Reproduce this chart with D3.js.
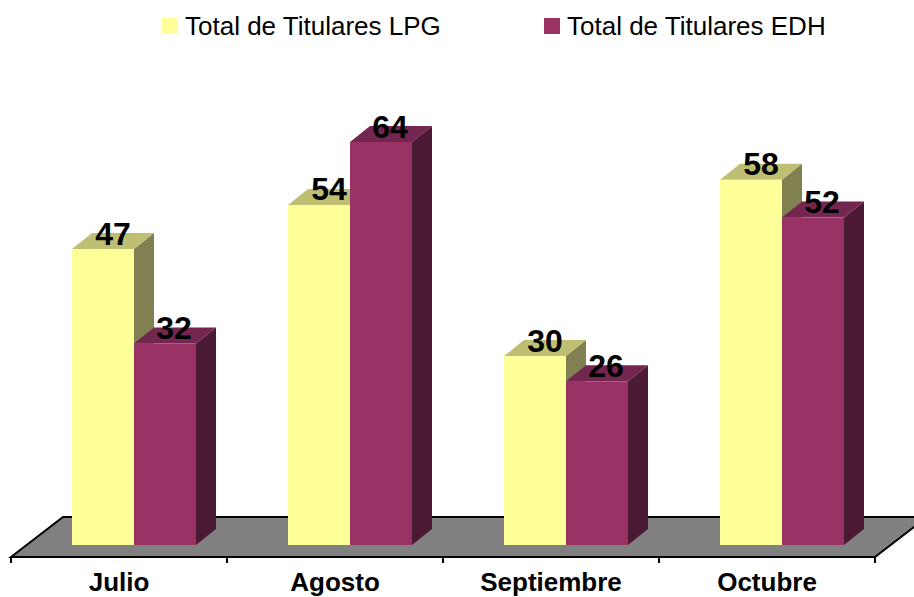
<!DOCTYPE html>
<html><head><meta charset="utf-8">
<script src="https://cdn.jsdelivr.net/npm/d3@7/dist/d3.min.js"></script>
<style>html,body{margin:0;padding:0;background:#fff}svg{display:block}text{font-family:"Liberation Sans",Arial,sans-serif}</style>
</head><body><svg id="c" width="914" height="597"></svg>
<script>
const categories = ["Julio","Agosto","Septiembre","Octubre"];
const seriesNames = ["Total de Titulares LPG","Total de Titulares EDH"];
const lpgValues = [47,54,30,58];
const edhValues = [32,64,26,52];
const seriesColors = [{front:"#ffff99",top:"#bfbf73",side:"#808050"},{front:"#993366",top:"#732650",side:"#4d1a33"}];

const svg = d3.select("#c");
const depthX = 20, depthY = 16;
const floorY = 557, baseY = 545, floorBackY = 517;
const x0 = d3.scaleBand().domain(categories).range([11,875]);
const x1 = d3.scaleBand().domain(seriesNames).range([61,185]);
const y = d3.scaleLinear().domain([0,64]).range([baseY,142]);
const labelShift = [10,9];

// floor
svg.append("path")
  .attr("d",`M11,${floorY}L63,${floorBackY}L927,${floorBackY}L875,${floorY}Z`)
  .attr("fill","#808080").attr("stroke","#000").attr("stroke-width",2);

// axis
const axis = d3.axisBottom(x0).tickSize(0).tickPadding(15.5);
const gA = svg.append("g").attr("transform",`translate(0,${floorY})`).call(axis);
gA.select(".domain").remove();
gA.selectAll("text").attr("font-size",26).attr("font-weight","bold").attr("fill","#000").attr("font-family","Liberation Sans");
const edges = categories.map(c=>x0(c)).concat([x0.range()[1]]);
gA.selectAll("line.edge").data(edges).join("line").attr("class","edge")
  .attr("x1",d=>d).attr("x2",d=>d).attr("y1",0).attr("y2",6).attr("stroke","#000").attr("stroke-width",2);

// bars
const allSeries = [lpgValues,edhValues];
categories.forEach((cat,i)=>{
  const g = svg.append("g");
  seriesNames.forEach((s,k)=>{
    const v = allSeries[k][i], col = seriesColors[k];
    const xl = x0(cat)+x1(s), xr = xl+x1.bandwidth(), yt = y(v);
    g.append("path").attr("fill",col.side)
      .attr("d",`M${xr},${yt}L${xr+depthX},${yt-depthY}L${xr+depthX},${baseY-depthY}L${xr},${baseY}Z`);
    g.append("path").attr("fill",col.top)
      .attr("d",`M${xl},${yt}L${xl+depthX},${yt-depthY}L${xr+depthX},${yt-depthY}L${xr},${yt}Z`);
    g.append("rect").attr("fill",col.front).attr("x",xl).attr("y",yt).attr("width",x1.bandwidth()).attr("height",baseY-yt);
  });
  seriesNames.forEach((s,k)=>{
    const v = allSeries[k][i];
    svg.append("text").attr("x",x0(cat)+x1(s)+x1.bandwidth()/2+labelShift[k]).attr("y",y(v)-4.5)
      .attr("text-anchor","middle").attr("font-size",32).attr("font-weight","bold").attr("fill","#000").text(v);
  });
});

// legend
const legendX = [162,544], legendTextX = [185,567];
seriesNames.forEach((s,k)=>{
  svg.append("rect").attr("x",legendX[k]).attr("y",18).attr("width",16).attr("height",16).attr("fill",seriesColors[k].front);
  svg.append("text").attr("x",legendTextX[k]).attr("y",34.5).attr("font-size",26).attr("fill","#000").text(s);
});
</script></body></html>
